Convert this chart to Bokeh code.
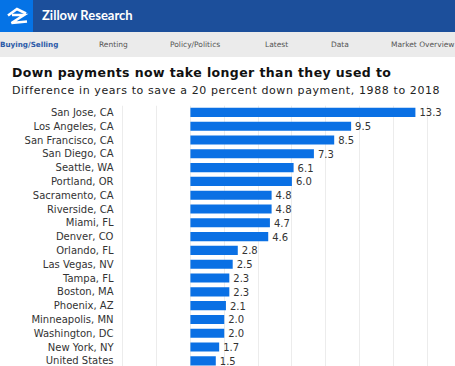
from bokeh.plotting import figure
from bokeh.models import Div, Range1d, FixedTicker, SingleIntervalTicker
from bokeh.layouts import column
from bokeh.core.properties import value
from bokeh.embed import file_html
from bokeh.resources import INLINE

# ---- data ----
cities = ["San Jose, CA", "Los Angeles, CA", "San Francisco, CA", "San Diego, CA",
          "Seattle, WA", "Portland, OR", "Sacramento, CA", "Riverside, CA",
          "Miami, FL", "Denver, CO", "Orlando, FL", "Las Vegas, NV", "Tampa, FL",
          "Boston, MA", "Phoenix, AZ", "Minneapolis, MN", "Washington, DC",
          "New York, NY", "United States"]
years_diff = [13.3, 9.5, 8.5, 7.3, 6.1, 6.0, 4.8, 4.8, 4.7, 4.6, 2.8, 2.5, 2.3,
              2.3, 2.1, 2.0, 2.0, 1.7, 1.5]
nav_items = ["Buying/Selling", "Renting", "Policy/Politics", "Latest", "Data", "Market Overview"]
brand = "Zillow Research"
title_text = "Down payments now take longer than they used to"
subtitle_text = "Difference in years to save a 20 percent down payment, 1988 to 2018"

FONT = "DejaVu Sans"
BAR = "#0a70e4"
W, H = 455, 366
HEAD_H = 105

# ---- header / nav / titles (HTML) ----
nav_left = [0, 99, 170, 265, 331, 391]
nav_html = ""
for i, (t, l) in enumerate(zip(nav_items, nav_left)):
    if i == 0:
        st = "color:#2b5aa8;font-weight:bold;font-size:7.2px;"
    else:
        st = "color:#555555;font-size:7.5px;"
    nav_html += (f'<span style="position:absolute;left:{l}px;top:41.3px;'
                 f'line-height:7.5px;white-space:nowrap;{st}">{t}</span>')

logo_svg = ('<svg width="33" height="32" style="position:absolute;left:0;top:0" '
            'xmlns="http://www.w3.org/2000/svg">'
            '<polyline points="8,15.5 17,9 26,13.5" fill="none" stroke="white" stroke-width="2.6"/>'
            '<polyline points="12,15 24,15 11.5,23 27,21.5" fill="none" stroke="white" stroke-width="2.6"/>'
            '</svg>')

html = (
    f'<div style="position:relative;width:{W}px;height:{HEAD_H}px;overflow:hidden;'
    f'font-family:\'{FONT}\';background:white;">'
    f'<div style="position:absolute;left:0;top:0;width:{W}px;height:32px;background:#1c4f9b;"></div>'
    '<div style="position:absolute;left:0;top:0;width:33px;height:32px;background:#0573e6;"></div>'
    + logo_svg +
    f'<span style="position:absolute;left:42px;top:9.2px;font-family:Lato;font-size:13px;line-height:13px;'
    f'color:white;font-weight:bold;white-space:nowrap;">{brand}</span>'
    f'<div style="position:absolute;left:0;top:32px;width:{W}px;height:25px;background:#ebebeb;"></div>'
    + nav_html +
    f'<span style="position:absolute;left:12px;top:66.7px;font-size:12.5px;line-height:12.5px;'
    f'letter-spacing:0.4px;color:#111111;font-weight:bold;white-space:nowrap;">{title_text}</span>'
    f'<span style="position:absolute;left:12px;top:85px;font-size:11px;line-height:11px;'
    f'letter-spacing:0.6px;color:#222222;white-space:nowrap;">{subtitle_text}</span>'
    '</div>'
)
header = Div(text=html, width=W, height=HEAD_H, margin=(0, 0, 0, 0))

# ---- chart ----
idx = list(range(len(cities)))
p = figure(width=W, height=H - HEAD_H, output_backend="svg", toolbar_location=None,
           x_range=Range1d(-4.31, 15.67), y_range=Range1d(18.41, -0.5),
           x_axis_location=None, min_border_left=117, min_border_right=0,
           min_border_top=0, min_border_bottom=0, margin=(0, 0, 0, 0))
p.outline_line_color = None
p.background_fill_color = "white"
p.border_fill_color = "white"

p.xgrid.ticker = SingleIntervalTicker(interval=2)
p.xgrid.grid_line_color = "#ececec"
p.xgrid.grid_line_width = 1
p.ygrid.grid_line_color = None

p.hbar(y=idx, left=0, right=years_diff, height=0.66, color=BAR, line_color=None)

labels = [f"{v:.1f}" for v in years_diff]
p.text(x=years_diff, y=idx, text=labels, x_offset=4, text_baseline="middle",
       text_align="left", text_font=value(FONT), text_font_size="10px", text_color="#333333")

yax = p.yaxis[0]
yax.ticker = FixedTicker(ticks=idx)
yax.major_label_overrides = {i: c for i, c in zip(idx, cities)}
yax.axis_line_color = None
yax.major_tick_line_color = None
yax.minor_tick_line_color = None
yax.major_tick_out = 0
yax.major_tick_in = 0
yax.major_label_standoff = 4
yax.major_label_text_font = FONT
yax.major_label_text_font_size = "10px"
yax.major_label_text_color = "#333333"

layout = column(header, p, spacing=0, margin=(0, 0, 0, 0))
open("out.html", "w").write(file_html(layout, INLINE))
